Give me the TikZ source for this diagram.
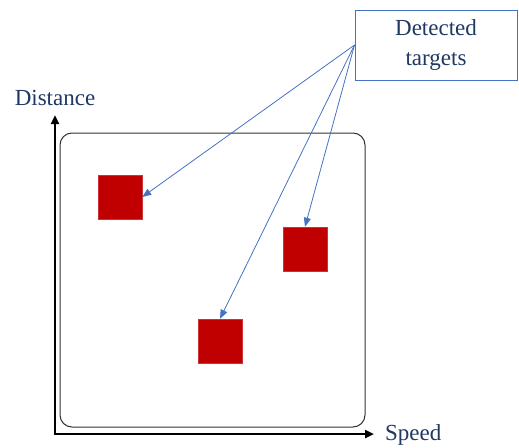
\documentclass[tikz,border=0pt]{standalone}
\usepackage{fontspec}
\setmainfont{Liberation Serif}
\usetikzlibrary{positioning,arrows.meta}
\definecolor{labelblue}{RGB}{31,56,100}
\definecolor{targetred}{RGB}{192,0,0}
\definecolor{pointerblue}{RGB}{68,114,196}

\begin{document}
\begin{tikzpicture}[x=1pt,y=-1pt,
targetnode/.style={rectangle, fill=targetred, draw=targetred!80!white, line width=0.5pt, inner sep=0pt, minimum size=44pt},
calloutnode/.style={rectangle, draw=pointerblue, line width=1pt, minimum width=162pt, minimum height=70pt, align=center, text=labelblue, font=\fontsize{23}{30}\selectfont},
axislabel/.style={text=labelblue, font=\fontsize{23}{28}\selectfont, inner sep=0pt},
axis/.style={line width=2.6pt, -{Triangle[length=9pt,width=8pt]}},
pointer/.style={pointerblue, line width=0.8pt, -{Triangle[length=9pt,width=7pt]}},
]
\useasboundingbox (0,0) rectangle (519,447);
%Nodes
\coordinate (origin) at (55,434);
\coordinate (ytip)   at (55,115);
\coordinate (xtip)   at (374,434);
\draw[black!80, line width=1pt, rounded corners=12pt] (60,133) rectangle (365,427);

\node[targetnode] (near)   at (120,197) {};
\node[targetnode] (middle) at (305,249) {};
\node[targetnode] (far)    at (220,341) {};

\node[calloutnode] (callout) at (436,45) {Detected\\targets};

\node[axislabel] (distance) [above=9pt of ytip] {Distance};
\node[axislabel] (speed)    [right=11pt of xtip, yshift=-1pt] {Speed};

%Lines
\draw[axis] ([yshift=1.3pt]origin) -- (ytip);
\draw[axis] ([xshift=-1.3pt]origin) -- (xtip);
\draw[pointer] (callout.west) -- (near.east);
\draw[pointer] (callout.west) -- (middle.north);
\draw[pointer] (callout.west) -- (far.north);

\end{tikzpicture}
\end{document}
